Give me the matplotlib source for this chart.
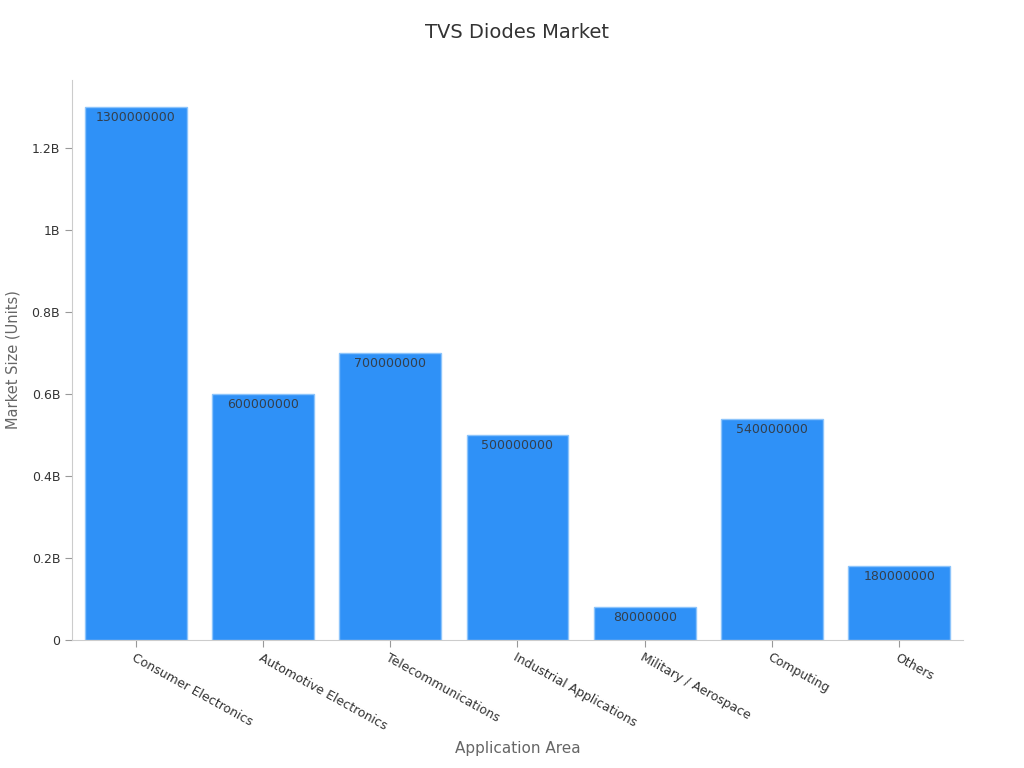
import matplotlib
matplotlib.use("Agg")
import matplotlib.pyplot as plt
from matplotlib.ticker import FuncFormatter

categories = ["Consumer Electronics", "Automotive Electronics", "Telecommunications",
              "Industrial Applications", "Military / Aerospace", "Computing", "Others"]
market_size = [1300000000, 600000000, 700000000, 500000000, 80000000, 540000000, 180000000]

fig = plt.figure(figsize=(10.24, 7.68), dpi=100)
ax = fig.add_axes([0.0703, 0.1667, 0.8701, 0.7291])

x = range(len(categories))
bars = ax.bar(x, market_size, width=0.8, color="#2f91f7", edgecolor="#8cc4fb", linewidth=1)

for xi, v in zip(x, market_size):
    ax.annotate(str(v), (xi, v), xytext=(0, -3), textcoords="offset points",
                ha="center", va="top", fontsize=9, color="#333f4d")

def fmt(v, pos):
    if v == 0:
        return "0"
    b = v / 1e9
    s = ("%.1f" % b).rstrip("0").rstrip(".")
    return s + "B"

ax.set_xlim(-0.5, 6.5)
ax.set_ylim(0, 1.366e9)
ax.set_yticks([0, 0.2e9, 0.4e9, 0.6e9, 0.8e9, 1.0e9, 1.2e9])
ax.yaxis.set_major_formatter(FuncFormatter(fmt))
ax.set_xticks(list(x))
ax.set_xticklabels(categories, rotation=-29, ha="left", rotation_mode="anchor")

for s in ["top", "right"]:
    ax.spines[s].set_visible(False)
for s in ["left", "bottom"]:
    ax.spines[s].set_color("#cccccc")
ax.tick_params(axis="both", colors="#999999", labelcolor="#333333", labelsize=9, length=5)
ax.tick_params(axis="x", pad=3)

ax.set_title("TVS Diodes Market", fontsize=14, color="#333333", pad=30)
ax.set_xlabel("Application Area", fontsize=11, color="#666666", labelpad=6)
ax.set_ylabel("Market Size (Units)", fontsize=10.5, color="#666666", labelpad=8)

fig.savefig("out.png", dpi=100)
